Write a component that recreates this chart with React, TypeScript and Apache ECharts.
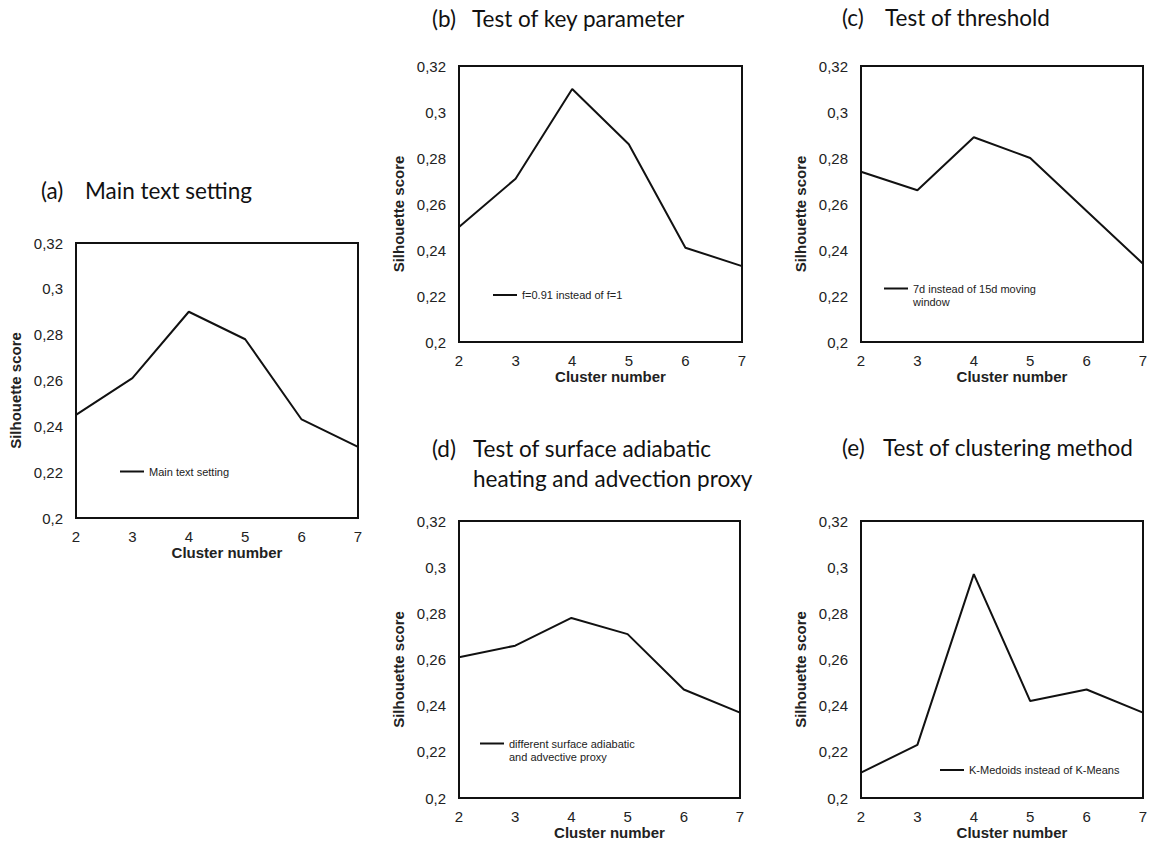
import React, { useEffect, useRef } from "react";
import * as echarts from "echarts";

const clusters = [2, 3, 4, 5, 6, 7];
const yMin = 0.2;
const yMax = 0.32;
const yStep = 0.02;

const mainText = [0.245, 0.261, 0.29, 0.278, 0.243, 0.231];
const keyParam = [0.25, 0.271, 0.31, 0.286, 0.241, 0.233];
const threshold = [0.274, 0.266, 0.289, 0.28, 0.257, 0.234];
const adiabatic = [0.261, 0.266, 0.278, 0.271, 0.247, 0.237];
const clusteringMethod = [0.211, 0.223, 0.297, 0.242, 0.247, 0.237];

const seriesNames = [
  "Main text setting",
  "f=0.91 instead of f=1",
  "7d instead of 15d moving\nwindow",
  "different surface adiabatic\nand advective proxy",
  "K-Medoids instead of K-Means",
];
const panelLetters = ["(a)", "(b)", "(c)", "(d)", "(e)"];
const panelTitles = [
  "Main text setting",
  "Test of key parameter",
  "Test of threshold",
  "Test of surface adiabatic\nheating and advection proxy",
  "Test of clustering method",
];
const allValues = [mainText, keyParam, threshold, adiabatic, clusteringMethod];

// layout: grid boxes, legend anchors, title anchors
const grids = [
  { left: 76, top: 243, width: 282, height: 275 },
  { left: 459, top: 66, width: 283, height: 276 },
  { left: 861, top: 66, width: 282, height: 276 },
  { left: 459, top: 521, width: 281, height: 277 },
  { left: 861, top: 521, width: 282, height: 277 },
];
const legendPos = [
  { left: 120, top: 465, multi: false },
  { left: 493, top: 288.5, multi: false },
  { left: 884, top: 282, multi: true },
  { left: 480, top: 737, multi: true },
  { left: 940, top: 763.5, multi: false },
];
const titlePos = [
  { letterLeft: 41, textLeft: 85, top: 175 },
  { letterLeft: 432, textLeft: 472, top: 3 },
  { letterLeft: 842, textLeft: 885, top: 2 },
  { letterLeft: 432, textLeft: 473, top: 433 },
  { letterLeft: 842, textLeft: 883, top: 432 },
];

const AXIS_FONT = "'Liberation Sans', Arial, Helvetica, sans-serif";
const TITLE_FONT = "Lato, 'Open Sans', sans-serif";
const LEGEND_W = 24;
const MULTI_ICON = "path://M0,0L0,0M0,5.5L24,5.5L24,7.5L0,7.5ZM24,26L24,26";

export default function App() {
  const ref = useRef<HTMLDivElement>(null);

  useEffect(() => {
    if (!ref.current) return;
    const chart = echarts.init(ref.current, null, { renderer: "svg" });

    const fmt = (v: number) => String(+v.toFixed(2)).replace(".", ",");

    const titleStyle = {
      fontFamily: TITLE_FONT,
      fontWeight: "normal",
      fontSize: 22.5,
      color: "#111",
      lineHeight: 30,
    };

    const option: any = {
      animation: false,
      backgroundColor: "#ffffff",
      title: [] as any[],
      grid: grids.map((g) => ({
        ...g,
        show: true,
        borderColor: "#111",
        borderWidth: 2,
        backgroundColor: "transparent",
        containLabel: false,
      })),
      xAxis: grids.map((_, i) => ({
        type: "value",
        gridIndex: i,
        min: clusters[0],
        max: clusters[clusters.length - 1],
        interval: 1,
        axisLine: { show: false },
        axisTick: { show: false },
        splitLine: { show: false },
        axisLabel: {
          margin: 11,
          color: "#222",
          fontSize: 15,
          fontFamily: AXIS_FONT,
        },
        name: "Cluster number",
        nameLocation: "middle",
        nameGap: 25,
        nameTextStyle: {
          fontWeight: "bold",
          fontSize: 15,
          color: "#222",
          fontFamily: AXIS_FONT,
          padding: [0, 0, 0, 20],
        },
      })),
      yAxis: grids.map((_, i) => ({
        type: "value",
        gridIndex: i,
        min: yMin,
        max: yMax,
        interval: yStep,
        axisLine: { show: false },
        axisTick: { show: false },
        splitLine: { show: false },
        axisLabel: {
          margin: 13,
          color: "#222",
          fontSize: 15,
          fontFamily: AXIS_FONT,
          formatter: fmt,
        },
        name: "Silhouette score",
        nameLocation: "middle",
        nameGap: 53,
        nameTextStyle: {
          fontWeight: "bold",
          fontSize: 15,
          color: "#222",
          fontFamily: AXIS_FONT,
          padding: [0, 20, 0, 0],
        },
      })),
      legend: legendPos.map((l, i) => ({
        left: l.left,
        top: l.top,
        padding: 0,
        icon: l.multi ? MULTI_ICON : "rect",
        itemWidth: LEGEND_W,
        itemHeight: l.multi ? 26 : 2,
        data: [seriesNames[i]],
        selectedMode: false,
        textStyle: {
          fontSize: 11,
          color: "#222",
          fontFamily: AXIS_FONT,
          lineHeight: 13,
        },
      })),
      series: allValues.map((vals, i) => ({
        type: "line",
        name: seriesNames[i],
        xAxisIndex: i,
        yAxisIndex: i,
        data: clusters.map((c, k) => [c, vals[k]]),
        symbol: "none",
        lineStyle: { color: "#111", width: 2 },
        itemStyle: { color: "#111" },
      })),
    };

    titlePos.forEach((t, i) => {
      option.title.push({
        text: panelLetters[i],
        left: t.letterLeft,
        top: t.top,
        padding: 0,
        textStyle: titleStyle,
      });
      option.title.push({
        text: panelTitles[i],
        left: t.textLeft,
        top: t.top,
        padding: 0,
        textStyle: titleStyle,
      });
    });

    chart.setOption(option);
    return () => chart.dispose();
  }, []);

  return (
    <div
      ref={ref}
      style={{ position: "absolute", left: 0, top: 0, width: 1151, height: 841, background: "#fff" }}
    />
  );
}
